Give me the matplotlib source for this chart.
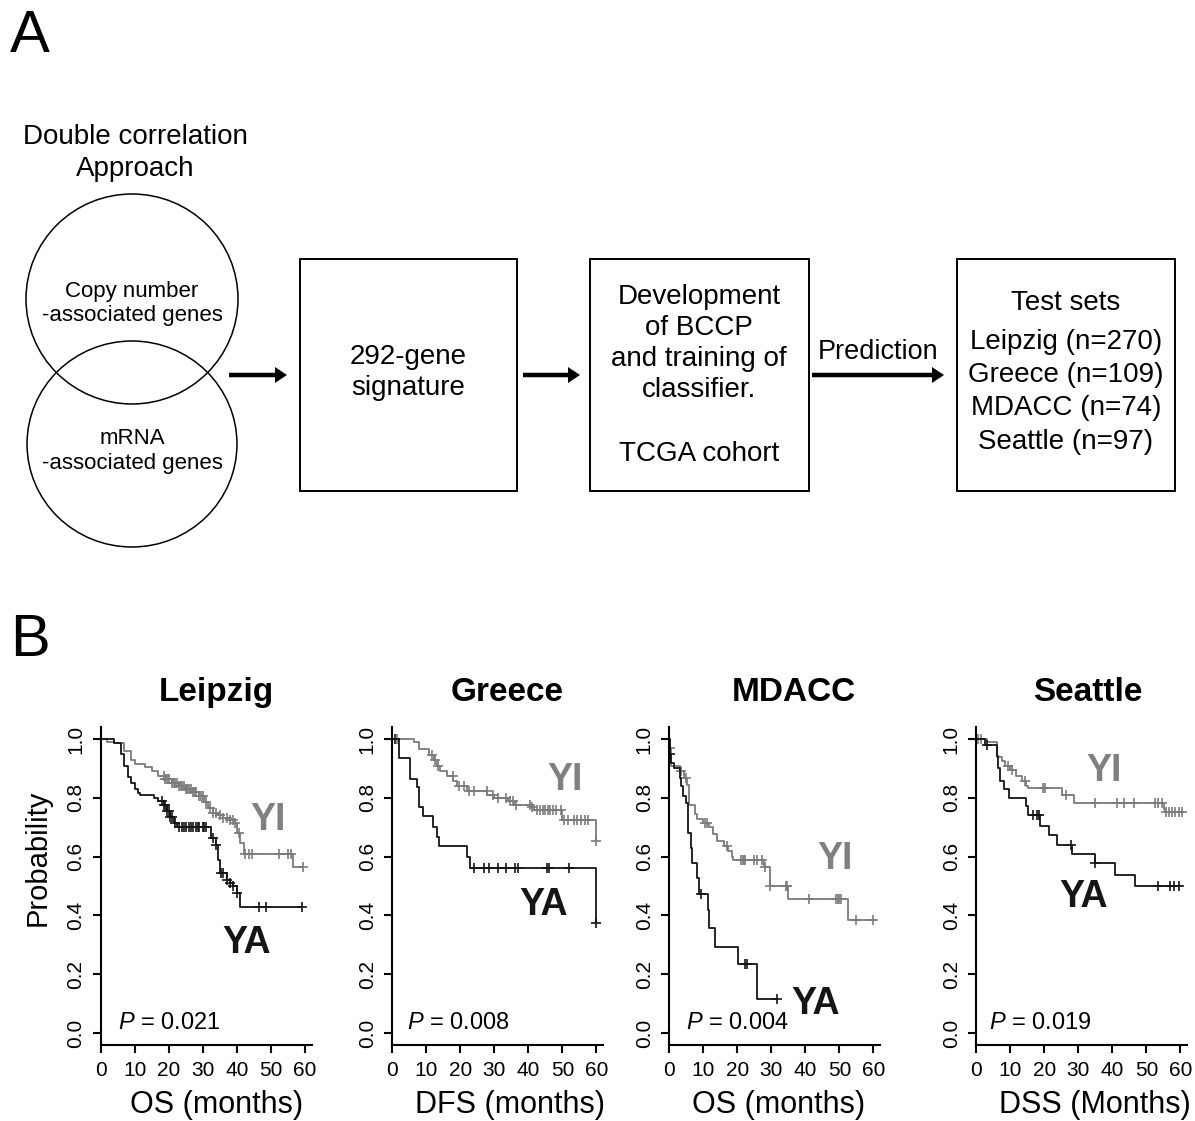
import numpy as np
import matplotlib
matplotlib.use('Agg')
import matplotlib.pyplot as plt
from matplotlib.patches import Ellipse, Rectangle, FancyArrow

plt.rcParams['font.family'] = ['Liberation Sans', 'DejaVu Sans']
plt.rcParams['mathtext.fontset'] = 'custom'
plt.rcParams['mathtext.it'] = 'Liberation Sans:italic'
plt.rcParams['mathtext.rm'] = 'Liberation Sans'

#Kaplan-Meier curves: step times, survival, censor times
leipzig_yi_t = [0, 2, 4, 7, 9, 10, 13, 15, 17, 19, 21, 23, 25, 27, 29, 30.5, 31.5, 33, 34.5, 36, 38, 39.5, 40, 41, 42, 56.5, 59.5]
leipzig_yi_s = [1.0, 0.99, 0.985, 0.96, 0.93, 0.915, 0.905, 0.89, 0.875, 0.865, 0.85, 0.84, 0.83, 0.82, 0.805, 0.785, 0.765, 0.75, 0.74, 0.73, 0.725, 0.715, 0.68, 0.645, 0.61, 0.565, 0.565]
leipzig_yi_cens = [18.5, 19, 19.5, 20, 21, 21.5, 22, 22.5, 23, 23.5, 24, 24.5, 25, 25.5, 26, 26.5, 27, 27.5, 28, 29, 29.5, 30, 31, 32, 33, 34, 35, 36, 37, 38, 39, 39.5, 40.5, 42.5, 43.5, 44.5, 52.5, 55, 56, 59.5]
leipzig_ya_t = [0, 4, 6, 7, 8, 9, 10, 11, 11.7, 15.6, 17, 18.5, 19.5, 20.5, 21.5, 22.5, 32.5, 34, 34.5, 35, 37, 38, 39, 40, 41, 59]
leipzig_ya_s = [1.0, 0.985, 0.95, 0.91, 0.87, 0.85, 0.83, 0.815, 0.81, 0.80, 0.79, 0.775, 0.755, 0.735, 0.715, 0.70, 0.665, 0.64, 0.59, 0.545, 0.52, 0.51, 0.50, 0.475, 0.43, 0.43]
leipzig_ya_cens = [18, 18.5, 19, 19.5, 20, 20.5, 21, 22, 23, 24, 24.5, 25, 26, 26.5, 27, 28, 28.5, 29, 30, 30.5, 31, 33, 34, 35.5, 36, 37, 38, 39, 40, 46.5, 48.5, 59]

greece_yi_t = [0, 6.4, 8, 10.8, 12.2, 13.2, 14.2, 16, 18, 19, 22, 28, 30, 34, 35.7, 40.6, 41.6, 50, 60]
greece_yi_s = [1.0, 0.99, 0.966, 0.947, 0.93, 0.91, 0.89, 0.873, 0.856, 0.84, 0.822, 0.81, 0.80, 0.788, 0.777, 0.77, 0.76, 0.725, 0.652]
greece_yi_cens = [1.5, 11.8, 12.6, 13.5, 17.8, 19.8, 21, 22.5, 24, 27.8, 29.5, 31, 33.5, 34.5, 35.5, 36.5, 40.5, 41.2, 42.5, 43.3, 44.2, 45, 45.8, 46.5, 47.3, 48.2, 49.5, 50.5, 51.5, 53.5, 54.3, 55.5, 56.5, 57.5, 60]
greece_ya_t = [0, 2, 5.4, 7.3, 8, 9, 12, 13.2, 13.9, 22, 23, 60]
greece_ya_s = [1.0, 0.935, 0.865, 0.837, 0.77, 0.737, 0.70, 0.667, 0.637, 0.60, 0.563, 0.375]
greece_ya_cens = [1, 24, 27, 28.5, 31, 33.5, 36, 37, 45.5, 46.2, 52, 60]

mdacc_yi_t = [0, 0.2, 0.7, 3.1, 4.3, 5.2, 5.8, 7.5, 8.1, 9.9, 11.8, 12.8, 14.2, 16.2, 17.3, 18.4, 18.8, 27.8, 29.7, 35, 52.5, 60.3]
mdacc_yi_s = [1.0, 0.97, 0.91, 0.89, 0.867, 0.845, 0.777, 0.744, 0.727, 0.716, 0.70, 0.677, 0.654, 0.637, 0.62, 0.598, 0.59, 0.564, 0.50, 0.457, 0.386, 0.386]
mdacc_yi_cens = [0.3, 3.5, 5.0, 10.5, 11.2, 17, 21.2, 21.6, 22, 22.4, 24.8, 25.8, 27.2, 28.2, 29.7, 34.3, 34.7, 41, 49, 49.5, 50, 50.6, 55, 60]
mdacc_ya_t = [0, 0.2, 0.5, 1.6, 3.1, 3.6, 4.1, 5, 5.5, 6.5, 6.8, 8.1, 8.7, 11.3, 11.8, 13.6, 20.3, 25.9, 31.7]
mdacc_ya_s = [1.0, 0.95, 0.918, 0.90, 0.867, 0.84, 0.806, 0.783, 0.68, 0.63, 0.58, 0.527, 0.474, 0.418, 0.356, 0.294, 0.236, 0.115, 0.115]
mdacc_ya_cens = [0.3, 9.5, 22.2, 22.8, 31.7]

seattle_yi_t = [0, 3.3, 6.3, 7.5, 8.5, 10, 11.7, 13.4, 14.7, 15.4, 25.2, 28.8, 55.1, 55.6, 60.8]
seattle_yi_s = [1.0, 0.989, 0.94, 0.926, 0.907, 0.895, 0.875, 0.858, 0.84, 0.832, 0.81, 0.782, 0.761, 0.752, 0.752]
seattle_yi_cens = [0.5, 1.5, 9.5, 10.5, 14.5, 19.8, 20.3, 26.5, 35, 41.5, 43.5, 46.5, 52.5, 53.5, 54.5, 55.8, 56.5, 57.5, 58.5, 59.5, 60.5]
seattle_ya_t = [0, 2.6, 6.1, 6.6, 7, 8.3, 9.7, 14.7, 15.2, 18.8, 21.5, 23.9, 28.3, 34.8, 40.9, 46.8, 60]
seattle_ya_s = [1.0, 0.98, 0.943, 0.903, 0.858, 0.83, 0.80, 0.773, 0.74, 0.705, 0.674, 0.64, 0.608, 0.577, 0.536, 0.50, 0.50]
seattle_ya_cens = [3.2, 16.8, 17.8, 18.5, 28.0, 35, 53.5, 57, 58, 59.5]

cohorts = ['Leipzig', 'Greece', 'MDACC', 'Seattle']
xlabels = ['OS (months)', 'DFS (months)', 'OS (months)', 'DSS (Months)']
pvalues = ['0.021', '0.008', '0.004', '0.019']
test_sets = ['Leipzig (n=270)', 'Greece (n=109)', 'MDACC (n=74)', 'Seattle (n=97)']

curves = [
    (leipzig_yi_t, leipzig_yi_s, leipzig_yi_cens, leipzig_ya_t, leipzig_ya_s, leipzig_ya_cens),
    (greece_yi_t, greece_yi_s, greece_yi_cens, greece_ya_t, greece_ya_s, greece_ya_cens),
    (mdacc_yi_t, mdacc_yi_s, mdacc_yi_cens, mdacc_ya_t, mdacc_ya_s, mdacc_ya_cens),
    (seattle_yi_t, seattle_yi_s, seattle_yi_cens, seattle_ya_t, seattle_ya_s, seattle_ya_cens),
]

# layout (pixels / axes fractions)
ax_left = [100.5, 392, 669, 976]
title_x = [0.547, 0.545, 0.59, 0.53]
xlab_x = [0.547, 0.56, 0.52, 0.564]
yi_pos = [(49.1, 0.724), (50.9, 0.861), (48.7, 0.593), (37.5, 0.89)]
ya_pos = [(43, 0.306), (44.4, 0.435), (42.9, 0.098), (31.6, 0.464)]
p_x = [5.1, 4.4, 4.9, 3.8]

GRAY = '#7b7b7b'
BLACK = '#151515'
W, H = 1195, 1121

fig = plt.figure(figsize=(W / 100, H / 100), dpi=100)

# ---- panel A: flow diagram, drawn in pixel coordinates
ax0 = fig.add_axes([0, 0, 1, 1])
ax0.set_xlim(0, W)
ax0.set_ylim(H, 0)
ax0.axis('off')

ax0.text(10, 37, 'A', fontsize=43, ha='left', va='center')
ax0.text(10, 640, 'B', fontsize=43, ha='left', va='center')

ax0.text(135, 137, 'Double correlation', fontsize=20, ha='center', va='center')
ax0.text(135, 169, 'Approach', fontsize=20, ha='center', va='center')
ax0.add_patch(Ellipse((132, 299), 212, 210, fill=False, lw=1.1, ec='black'))
ax0.add_patch(Ellipse((132, 444), 210, 206, fill=False, lw=1.1, ec='black'))
ax0.text(132, 291, 'Copy number', fontsize=16, ha='center', va='center')
ax0.text(132, 315, '-associated genes', fontsize=16, ha='center', va='center')
ax0.text(132, 439, 'mRNA', fontsize=16, ha='center', va='center')
ax0.text(132, 463, '-associated genes', fontsize=16, ha='center', va='center')

for x0, x1 in [(300, 517), (590, 809), (957, 1175)]:
    ax0.add_patch(Rectangle((x0, 259), x1 - x0, 232, fill=False, lw=1.4, ec='black'))

for x0, x1 in [(229, 287), (523, 580), (812, 944)]:
    ax0.add_patch(FancyArrow(x0, 375, x1 - x0, 0, width=4.5, head_width=16, head_length=12,
                             length_includes_head=True, color='black', lw=0))

ax0.text(408, 357, '292-gene', fontsize=20, ha='center', va='center')
ax0.text(408, 388, 'signature', fontsize=20, ha='center', va='center')
for txt, y in zip(['Development', 'of BCCP', 'and training of', 'classifier.', 'TCGA cohort'],
                  [297, 328, 359, 390, 454]):
    ax0.text(699, y, txt, fontsize=20, ha='center', va='center')
ax0.text(878, 352, 'Prediction', fontsize=19.5, ha='center', va='center')
ax0.text(1066, 303, 'Test sets', fontsize=20, ha='center', va='center')
for txt, y in zip(test_sets, [342, 375, 408, 442]):
    ax0.text(1066, y, txt, fontsize=20, ha='center', va='center')


# ---- panel B: Kaplan-Meier plots
def km(ax, t, s, cens, color):
    t = np.asarray(t, dtype=float)
    s = np.asarray(s, dtype=float)
    ax.step(t, s, where='post', color=color, lw=1.3)
    c = np.asarray(cens, dtype=float)
    idx = np.searchsorted(t, c, side='right') - 1
    ax.plot(c, s[idx], ls='none', marker='+', ms=7, mew=1.2, color=color)


ax_w = 211.3 / W
ax_h = 317.5 / H
ax_b = (H - 1044.8) / H
for i in range(4):
    ax = fig.add_axes([ax_left[i] / W, ax_b, ax_w, ax_h])
    yi_t, yi_s, yi_c, ya_t, ya_s, ya_c = curves[i]
    km(ax, yi_t, yi_s, yi_c, GRAY)
    km(ax, ya_t, ya_s, ya_c, BLACK)
    ax.set_xlim(0, 62)
    ax.set_ylim(-0.04, 1.04)
    ax.set_xticks(np.arange(0, 61, 10))
    ax.set_yticks(np.arange(0, 1.01, 0.2))
    ax.set_yticklabels(['%.1f' % v for v in np.arange(0, 1.01, 0.2)], rotation=90, va='center')
    for sp in ['top', 'right']:
        ax.spines[sp].set_visible(False)
    for sp in ['left', 'bottom']:
        ax.spines[sp].set_linewidth(1.5)
    ax.tick_params(direction='out', length=6, width=1.5, labelsize=15, pad=5)
    ax.tick_params(axis='x', pad=6)
    ax.patch.set_alpha(0)

    ax.text(title_x[i], 1.083, cohorts[i], transform=ax.transAxes, fontsize=24,
            fontweight='bold', ha='center', va='baseline')
    ax.text(xlab_x[i], -0.19, xlabels[i], transform=ax.transAxes, fontsize=22,
            ha='center', va='center')
    ax.text(p_x[i], 0.034, r'$P$ = ' + pvalues[i], fontsize=17, ha='left', va='center')
    ax.text(yi_pos[i][0], yi_pos[i][1], 'YI', fontsize=27, fontweight='bold',
            color='#808080', ha='center', va='center')
    ax.text(ya_pos[i][0], ya_pos[i][1], 'YA', fontsize=27, fontweight='bold',
            color=BLACK, ha='center', va='center')
    if i == 0:
        ax.text(-0.296, 0.588, 'Probability', transform=ax.transAxes, rotation=90,
                fontsize=21, ha='center', va='center')

fig.savefig('out.png', dpi=100)
